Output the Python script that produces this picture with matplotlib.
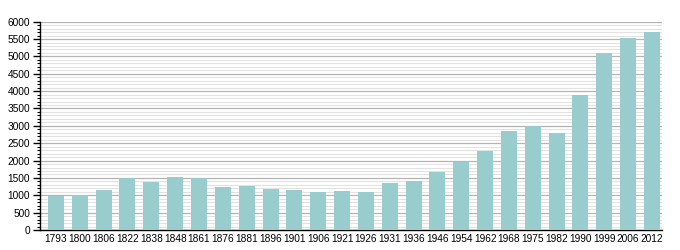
import matplotlib
matplotlib.use("Agg")
import matplotlib.pyplot as plt
from matplotlib.ticker import MultipleLocator

years = ["1793", "1800", "1806", "1822", "1838", "1848", "1861", "1876", "1881",
         "1896", "1901", "1906", "1921", "1926", "1931", "1936", "1946", "1954",
         "1962", "1968", "1975", "1982", "1990", "1999", "2006", "2012"]
population = [980, 1010, 1155, 1490, 1395, 1530, 1490, 1240, 1280,
              1180, 1150, 1100, 1120, 1100, 1355, 1410, 1680, 1970,
              2275, 2850, 2985, 2800, 3890, 5105, 5530, 5710]

plt.rcParams['font.family'] = ['Liberation Sans', 'DejaVu Sans']

fig = plt.figure(figsize=(6.8, 2.5), dpi=100)
ax = fig.add_axes([0.0588, 0.08, 0.9147, 0.8333])

x = range(len(years))
ax.bar(x, population, width=0.67, color="#99cccc", zorder=3)

ax.set_ylim(0, 6000)
ax.set_xlim(-0.67, len(years) - 1 + 0.42)
ax.yaxis.set_major_locator(MultipleLocator(500))
ax.yaxis.set_minor_locator(MultipleLocator(100))
ax.grid(True, which="major", axis="y", color="#b4b4b4", linewidth=0.9, zorder=0)
ax.grid(True, which="minor", axis="y", color="#e2e2e2", linewidth=0.8, zorder=0)

ax.set_xticks(list(x))
ax.set_xticklabels(years)
ax.tick_params(axis="x", length=0, pad=3, labelsize=7.3)
ax.tick_params(axis="y", which="major", length=5, width=1, direction="out", labelsize=7.3, pad=2)
ax.tick_params(axis="y", which="minor", length=2.5, width=0.8, direction="out")

for s in ["top", "right"]:
    ax.spines[s].set_visible(False)
ax.spines["left"].set_linewidth(1)
ax.spines["bottom"].set_linewidth(1)

fig.savefig("out.png", dpi=100)
